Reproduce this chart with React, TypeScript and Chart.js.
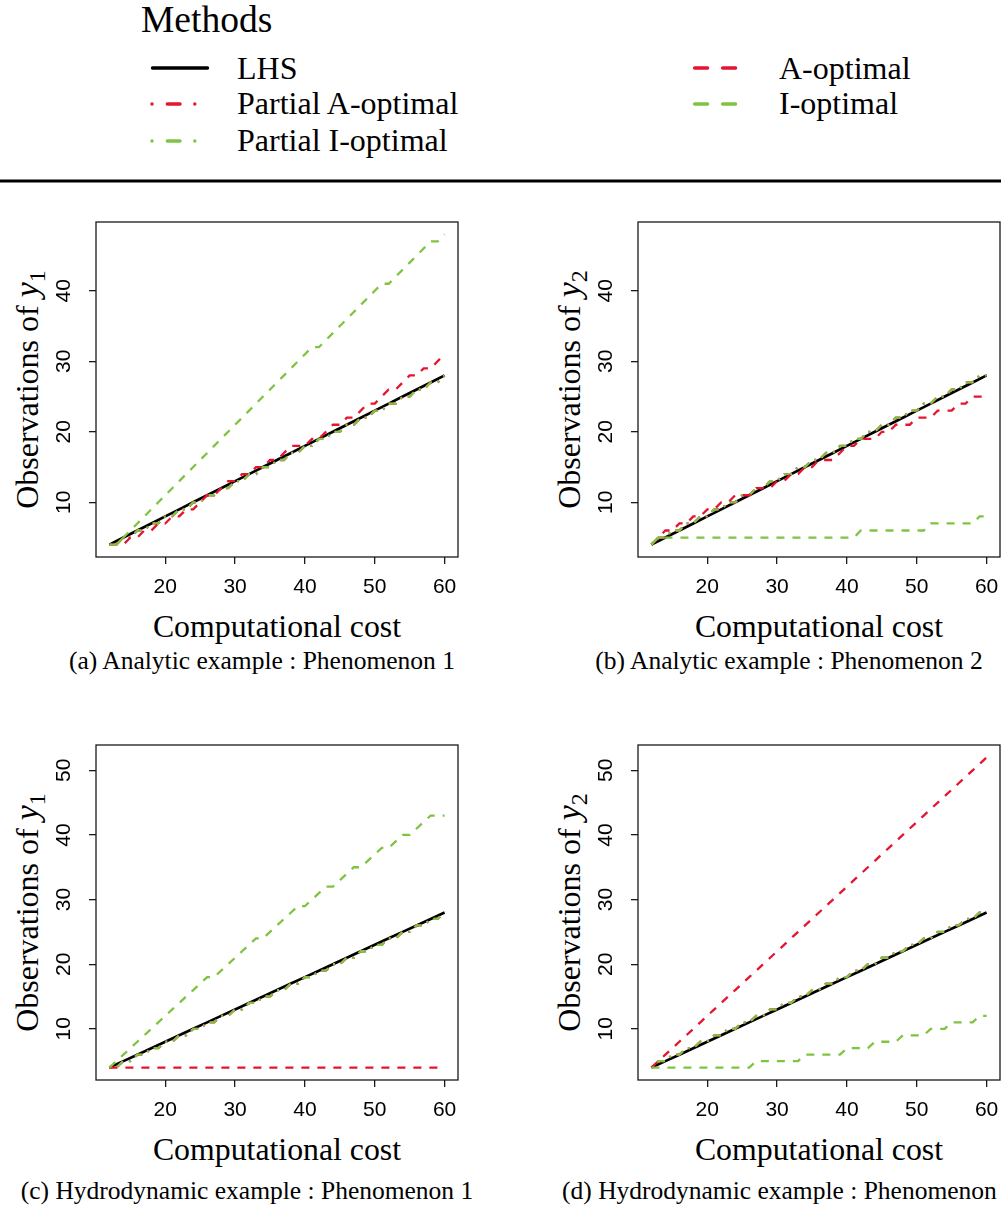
import React, { useEffect, useRef } from "react";
import { Chart, registerables } from "chart.js";

Chart.register(...registerables);

// ---------------- data ----------------
const COST = [12, 13, 14, 15, 16, 17, 18, 19, 20, 21, 22, 23, 24, 25, 26, 27, 28, 29, 30, 31, 32, 33, 34, 35, 36, 37, 38, 39, 40, 41, 42, 43, 44, 45, 46, 47, 48, 49, 50, 51, 52, 53, 54, 55, 56, 57, 58, 59, 60];

const LHS_COST = [12, 14, 16, 18, 20, 22, 24, 26, 28, 30, 32, 34, 36, 38, 40, 42, 44, 46, 48, 50, 52, 54, 56, 58, 60];
const LHS_OBS = [4, 5, 6, 7, 8, 9, 10, 11, 12, 13, 14, 15, 16, 17, 18, 19, 20, 21, 22, 23, 24, 25, 26, 27, 28];

// (a) Analytic example, y1
const ANA_Y1_PARTIAL_A = [4, 4, 5, 5, 6, 6, 7, 7, 8, 8, 9, 9, 10, 10, 11, 11, 12, 12, 13, 13, 14, 14, 15, 15, 16, 16, 17, 17, 18, 18, 19, 19, 20, 20, 21, 21, 22, 22, 23, 23, 24, 24, 25, 25, 26, 26, 27, 27, 28];
const ANA_Y1_PARTIAL_I = [4, 4, 5, 5, 6, 6, 7, 7, 8, 8, 9, 9, 10, 10, 11, 11, 12, 12, 13, 13, 14, 14, 15, 15, 16, 16, 17, 17, 18, 18, 19, 19, 20, 20, 21, 21, 22, 22, 23, 23, 24, 24, 25, 25, 26, 26, 27, 27, 28];
const ANA_Y1_A_OPT = [4, 4, 4, 5, 5, 6, 6, 7, 7, 8, 8, 9, 9, 10, 11, 11, 12, 13, 13, 14, 14, 15, 15, 16, 16, 17, 18, 18, 18, 19, 19, 20, 21, 21, 22, 22, 23, 24, 24, 25, 26, 26, 27, 28, 28, 29, 29, 30, 31];
const ANA_Y1_I_OPT = [4, 4, 5, 6, 7, 8, 9, 10, 11, 12, 13, 14, 15, 16, 17, 18, 19, 20, 21, 22, 23, 24, 25, 26, 27, 28, 29, 30, 31, 32, 32, 33, 34, 35, 36, 37, 38, 39, 40, 41, 41, 42, 43, 44, 45, 46, 47, 47, 48];

// (b) Analytic example, y2
const ANA_Y2_PARTIAL_A = [4, 5, 5, 6, 6, 7, 7, 8, 8, 9, 9, 10, 10, 11, 11, 12, 12, 13, 13, 14, 14, 15, 15, 16, 16, 17, 17, 18, 18, 19, 19, 20, 20, 21, 21, 22, 22, 23, 23, 24, 24, 25, 25, 26, 26, 27, 27, 28, 28];
const ANA_Y2_PARTIAL_I = [4, 5, 5, 6, 6, 7, 7, 8, 8, 9, 9, 10, 10, 11, 11, 12, 12, 13, 13, 14, 14, 15, 15, 16, 16, 17, 17, 18, 18, 19, 19, 20, 20, 21, 21, 22, 22, 23, 23, 24, 24, 25, 25, 26, 26, 27, 27, 28, 28];
const ANA_Y2_A_OPT = [4, 5, 6, 6, 7, 7, 8, 8, 9, 9, 10, 10, 11, 11, 11, 12, 12, 12, 13, 13, 14, 14, 15, 15, 16, 16, 16, 17, 18, 18, 19, 19, 19, 20, 20, 21, 21, 21, 22, 22, 22, 23, 23, 23, 24, 24, 25, 25, 25];
const ANA_Y2_I_OPT = [4, 5, 5, 5, 5, 5, 5, 5, 5, 5, 5, 5, 5, 5, 5, 5, 5, 5, 5, 5, 5, 5, 5, 5, 5, 5, 5, 5, 5, 5, 6, 6, 6, 6, 6, 6, 6, 6, 6, 6, 7, 7, 7, 7, 7, 7, 7, 8, 8];

// (c) Hydrodynamic example, y1
const HYD_Y1_PARTIAL_A = [4, 4, 5, 5, 6, 6, 7, 7, 8, 8, 9, 9, 10, 10, 11, 11, 12, 12, 13, 13, 14, 14, 15, 15, 16, 16, 17, 17, 18, 18, 19, 19, 20, 20, 21, 21, 22, 22, 23, 23, 24, 24, 25, 25, 26, 26, 27, 27, 28];
const HYD_Y1_PARTIAL_I = [4, 4, 5, 5, 6, 6, 7, 7, 8, 8, 9, 9, 10, 10, 11, 11, 12, 12, 13, 13, 14, 14, 15, 15, 16, 16, 17, 17, 18, 18, 19, 19, 20, 20, 21, 21, 22, 22, 23, 23, 24, 24, 25, 25, 26, 26, 27, 27, 28];
const HYD_Y1_A_OPT = [4, 4, 4, 4, 4, 4, 4, 4, 4, 4, 4, 4, 4, 4, 4, 4, 4, 4, 4, 4, 4, 4, 4, 4, 4, 4, 4, 4, 4, 4, 4, 4, 4, 4, 4, 4, 4, 4, 4, 4, 4, 4, 4, 4, 4, 4, 4, 4, 4];
const HYD_Y1_I_OPT = [4, 5, 6, 7, 8, 9, 10, 11, 12, 13, 14, 15, 16, 17, 18, 18, 19, 20, 21, 22, 23, 24, 24, 25, 26, 27, 28, 29, 29, 30, 31, 32, 32, 33, 34, 35, 35, 36, 37, 38, 38, 39, 40, 40, 41, 42, 43, 43, 43];

// (d) Hydrodynamic example, y2
const HYD_Y2_PARTIAL_A = [4, 5, 5, 6, 6, 7, 7, 8, 8, 9, 9, 10, 10, 11, 11, 12, 12, 13, 13, 14, 14, 15, 15, 16, 16, 17, 17, 18, 18, 19, 19, 20, 20, 21, 21, 22, 22, 23, 23, 24, 24, 25, 25, 26, 26, 27, 27, 28, 28];
const HYD_Y2_PARTIAL_I = [4, 5, 5, 6, 6, 7, 7, 8, 8, 9, 9, 10, 10, 11, 11, 12, 12, 13, 13, 14, 14, 15, 15, 16, 16, 17, 17, 18, 18, 19, 19, 20, 20, 21, 21, 22, 22, 23, 23, 24, 24, 25, 25, 26, 26, 27, 27, 28, 28];
const HYD_Y2_A_OPT = [4, 5, 6, 7, 8, 9, 10, 11, 12, 13, 14, 15, 16, 17, 18, 19, 20, 21, 22, 23, 24, 25, 26, 27, 28, 29, 30, 31, 32, 33, 34, 35, 36, 37, 38, 39, 40, 41, 42, 43, 44, 45, 46, 47, 48, 49, 50, 51, 52];
const HYD_Y2_I_OPT = [4, 4, 4, 4, 4, 4, 4, 4, 4, 4, 4, 4, 4, 4, 4, 5, 5, 5, 5, 5, 5, 5, 6, 6, 6, 6, 6, 6, 7, 7, 7, 7, 8, 8, 8, 8, 9, 9, 9, 9, 10, 10, 10, 11, 11, 11, 11, 12, 12];

const X_TICKS = [20, 30, 40, 50, 60];
const Y_TICKS_ANALYTIC = [10, 20, 30, 40];
const Y_TICKS_HYDRO = [10, 20, 30, 40, 50];
const X_DATA_RANGE = [12, 60];
const Y_DATA_RANGE_ANALYTIC = [4, 48];
const Y_DATA_RANGE_HYDRO = [4, 52];

const METHOD_NAMES = ["LHS", "Partial A-optimal", "Partial I-optimal", "A-optimal", "I-optimal"];
const CAPTIONS = [
  "(a) Analytic example : Phenomenon 1",
  "(b) Analytic example : Phenomenon 2",
  "(c) Hydrodynamic example : Phenomenon 1",
  "(d) Hydrodynamic example : Phenomenon 2",
];

// ---------------- styles ----------------
const RED = "#E5142F";
const GREEN = "#80C341";
const SERIF = "'Liberation Serif', 'Times New Roman', Times, serif";
const SANS = "'Liberation Sans', Arial, Helvetica, sans-serif";
const DASHED = [8, 8];
const DOTDASH = [2, 6, 8, 6];
const TICK_FONT = 21;

const PAD_L = 50;
const PAD_T = 10;
const PAD_R = 10;
const PAD_B = 45;
const BOX_W = 362;
const BOX_H = 335;

function extend(r: number[]) {
  const d = (r[1] - r[0]) * 0.04;
  return [r[0] - d, r[1] + d];
}

const boxPlugin = {
  id: "rbox",
  afterDraw(chart: any) {
    const { ctx, chartArea: a } = chart;
    ctx.save();
    ctx.strokeStyle = "#1a1a1a";
    ctx.lineWidth = 1.3;
    ctx.strokeRect(a.left, a.top, a.right - a.left, a.bottom - a.top);
    ctx.restore();
  },
};

// R-style y tick labels: parallel to the axis, reading bottom to top
const yLabelPlugin = {
  id: "rylabels",
  afterDraw(chart: any) {
    const s = chart.scales.y;
    const { ctx, chartArea: a } = chart;
    ctx.save();
    ctx.font = `${TICK_FONT}px ${SANS}`;
    ctx.fillStyle = "#000";
    ctx.textAlign = "center";
    ctx.textBaseline = "alphabetic";
    for (const t of s.ticks) {
      const y = s.getPixelForValue(t.value);
      ctx.save();
      ctx.translate(a.left - 26.5, y);
      ctx.rotate(-Math.PI / 2);
      ctx.fillText(String(t.value), 0, 0);
      ctx.restore();
    }
    ctx.restore();
  },
};

type PanelProps = {
  left: number;
  top: number;
  yTicks: number[];
  yRange: number[];
  partialA: number[];
  partialI: number[];
  aOpt: number[];
  iOpt: number[];
};

function pts(xs: number[], ys: number[]) {
  return xs.map((x, i) => ({ x, y: ys[i] }));
}

function Panel(p: PanelProps) {
  const ref = useRef<HTMLCanvasElement>(null);
  const W = PAD_L + BOX_W + PAD_R;
  const H = PAD_T + BOX_H + PAD_B;
  useEffect(() => {
    const xr = extend(X_DATA_RANGE);
    const yr = extend(p.yRange);
    const base = { pointRadius: 0, pointHoverRadius: 0, tension: 0, fill: false };
    const chart = new Chart(ref.current as HTMLCanvasElement, {
      type: "line",
      data: {
        datasets: [
          { ...base, label: METHOD_NAMES[4], data: pts(COST, p.iOpt), borderColor: GREEN, borderWidth: 2.3, borderDash: DASHED },
          { ...base, label: METHOD_NAMES[3], data: pts(COST, p.aOpt), borderColor: RED, borderWidth: 2.3, borderDash: DASHED },
          { ...base, label: METHOD_NAMES[2], data: pts(COST, p.partialI), borderColor: GREEN, borderWidth: 2.3, borderDash: DOTDASH },
          { ...base, label: METHOD_NAMES[1], data: pts(COST, p.partialA), borderColor: RED, borderWidth: 2.3, borderDash: DOTDASH },
          { ...base, label: METHOD_NAMES[0], data: pts(LHS_COST, LHS_OBS), borderColor: "#000000", borderWidth: 2.7 },
        ],
      } as any,
      options: {
        animation: false,
        responsive: false,
        devicePixelRatio: 1,
        events: [],
        layout: { padding: { left: 0, top: PAD_T, right: PAD_R, bottom: 0 } },
        plugins: { legend: { display: false }, tooltip: { enabled: false }, title: { display: false } },
        scales: {
          x: {
            type: "linear",
            min: xr[0],
            max: xr[1],
            afterBuildTicks: (s: any) => {
              s.ticks = X_TICKS.map((v) => ({ value: v }));
            },
            afterFit: (s: any) => {
              s.height = PAD_B;
            },
            grid: { display: true, drawOnChartArea: false, drawTicks: true, tickLength: 7, tickColor: "#1a1a1a", tickWidth: 1.3, lineWidth: 1.3 },
            border: { display: false },
            ticks: { font: { family: SANS, size: TICK_FONT }, color: "#000", padding: 11, minRotation: 0, maxRotation: 0, autoSkip: false },
          },
          y: {
            type: "linear",
            min: yr[0],
            max: yr[1],
            afterBuildTicks: (s: any) => {
              s.ticks = p.yTicks.map((v) => ({ value: v }));
            },
            afterFit: (s: any) => {
              s.width = PAD_L;
            },
            grid: { display: true, drawOnChartArea: false, drawTicks: true, tickLength: 7, tickColor: "#1a1a1a", tickWidth: 1.3, lineWidth: 1.3 },
            border: { display: false },
            ticks: { display: false, padding: 0, autoSkip: false },
          },
        },
      } as any,
      plugins: [boxPlugin, yLabelPlugin],
    });
    return () => chart.destroy();
  }, []);
  return (
    <canvas
      ref={ref}
      width={W}
      height={H}
      style={{ position: "absolute", left: p.left - PAD_L, top: p.top - PAD_T, width: W, height: H }}
    />
  );
}

function YTitle({ x, y, sub }: { x: number; y: number; sub: string }) {
  return (
    <text transform={`translate(${x},${y}) rotate(-90)`} textAnchor="middle" fontFamily={SERIF} fontSize={32} fill="#000">
      Observations of{" "}
      <tspan fontStyle="italic" fontSize={34}>y</tspan>
      <tspan fontSize={24} dy={7}>{sub}</tspan>
    </text>
  );
}

export default function App() {
  const boxes = [
    { left: 96, top: 222 },
    { left: 638, top: 222 },
    { left: 96, top: 745 },
    { left: 638, top: 745 },
  ];
  const cx = (b: { left: number }) => b.left + BOX_W / 2;
  const bottom = (b: { top: number }) => b.top + BOX_H;
  return (
    <div style={{ position: "absolute", left: 0, top: 0, width: 1001, height: 1213, overflow: "hidden", background: "#fff" }}>
      <svg width={1001} height={1213} style={{ position: "absolute", left: 0, top: 0 }}>
        {/* legend */}
        <text x={141} y={32} fontFamily={SERIF} fontSize={37.5} fill="#000">Methods</text>
        <line x1={152.5} x2={207.5} y1={68} y2={68} stroke="#000" strokeWidth={3.4} strokeLinecap="round" />
        <text x={237} y={79} fontFamily={SERIF} fontSize={32} fill="#000">{METHOD_NAMES[0]}</text>
        <line x1={152} x2={195} y1={104} y2={104} stroke={RED} strokeWidth={3.4} strokeLinecap="round" strokeDasharray="0.01 15.3 12.7 14.8 0.01 100" />
        <text x={237} y={114} fontFamily={SERIF} fontSize={32} fill="#000">{METHOD_NAMES[1]}</text>
        <line x1={152} x2={195} y1={141} y2={141} stroke={GREEN} strokeWidth={3.4} strokeLinecap="round" strokeDasharray="0.01 15.3 12.7 14.8 0.01 100" />
        <text x={237} y={151} fontFamily={SERIF} fontSize={32} fill="#000">{METHOD_NAMES[2]}</text>
        <line x1={694.6} x2={737.4} y1={68} y2={68} stroke={RED} strokeWidth={3.4} strokeLinecap="round" strokeDasharray="13 15" />
        <text x={779} y={79} fontFamily={SERIF} fontSize={32} fill="#000">{METHOD_NAMES[3]}</text>
        <line x1={694.6} x2={737.4} y1={104} y2={104} stroke={GREEN} strokeWidth={3.4} strokeLinecap="round" strokeDasharray="13 15" />
        <text x={779} y={114} fontFamily={SERIF} fontSize={32} fill="#000">{METHOD_NAMES[4]}</text>
        <line x1={0} x2={1001} y1={181} y2={181} stroke="#000" strokeWidth={3} />

        {/* x-axis titles */}
        {boxes.map((b, i) => (
          <text key={"xt" + i} x={cx(b)} y={bottom(b) + 80} textAnchor="middle" fontFamily={SERIF} fontSize={31.8} fill="#000">
            Computational cost
          </text>
        ))}
        {/* y-axis titles */}
        <YTitle x={37.7} y={boxes[0].top + BOX_H / 2} sub="1" />
        <YTitle x={boxes[1].left - 58.3} y={boxes[1].top + BOX_H / 2} sub="2" />
        <YTitle x={37.7} y={boxes[2].top + BOX_H / 2} sub="1" />
        <YTitle x={boxes[3].left - 58.3} y={boxes[3].top + BOX_H / 2} sub="2" />

        {/* captions */}
        <text x={262} y={669} textAnchor="middle" fontFamily={SERIF} fontSize={25.5} fill="#000">{CAPTIONS[0]}</text>
        <text x={789} y={669} textAnchor="middle" fontFamily={SERIF} fontSize={25.5} fill="#000">{CAPTIONS[1]}</text>
        <text x={247} y={1199} textAnchor="middle" fontFamily={SERIF} fontSize={25.5} fill="#000">{CAPTIONS[2]}</text>
        <text x={789} y={1199} textAnchor="middle" fontFamily={SERIF} fontSize={25.5} fill="#000">{CAPTIONS[3]}</text>
      </svg>

      <Panel left={boxes[0].left} top={boxes[0].top} yTicks={Y_TICKS_ANALYTIC} yRange={Y_DATA_RANGE_ANALYTIC}
        partialA={ANA_Y1_PARTIAL_A} partialI={ANA_Y1_PARTIAL_I} aOpt={ANA_Y1_A_OPT} iOpt={ANA_Y1_I_OPT} />
      <Panel left={boxes[1].left} top={boxes[1].top} yTicks={Y_TICKS_ANALYTIC} yRange={Y_DATA_RANGE_ANALYTIC}
        partialA={ANA_Y2_PARTIAL_A} partialI={ANA_Y2_PARTIAL_I} aOpt={ANA_Y2_A_OPT} iOpt={ANA_Y2_I_OPT} />
      <Panel left={boxes[2].left} top={boxes[2].top} yTicks={Y_TICKS_HYDRO} yRange={Y_DATA_RANGE_HYDRO}
        partialA={HYD_Y1_PARTIAL_A} partialI={HYD_Y1_PARTIAL_I} aOpt={HYD_Y1_A_OPT} iOpt={HYD_Y1_I_OPT} />
      <Panel left={boxes[3].left} top={boxes[3].top} yTicks={Y_TICKS_HYDRO} yRange={Y_DATA_RANGE_HYDRO}
        partialA={HYD_Y2_PARTIAL_A} partialI={HYD_Y2_PARTIAL_I} aOpt={HYD_Y2_A_OPT} iOpt={HYD_Y2_I_OPT} />
    </div>
  );
}
